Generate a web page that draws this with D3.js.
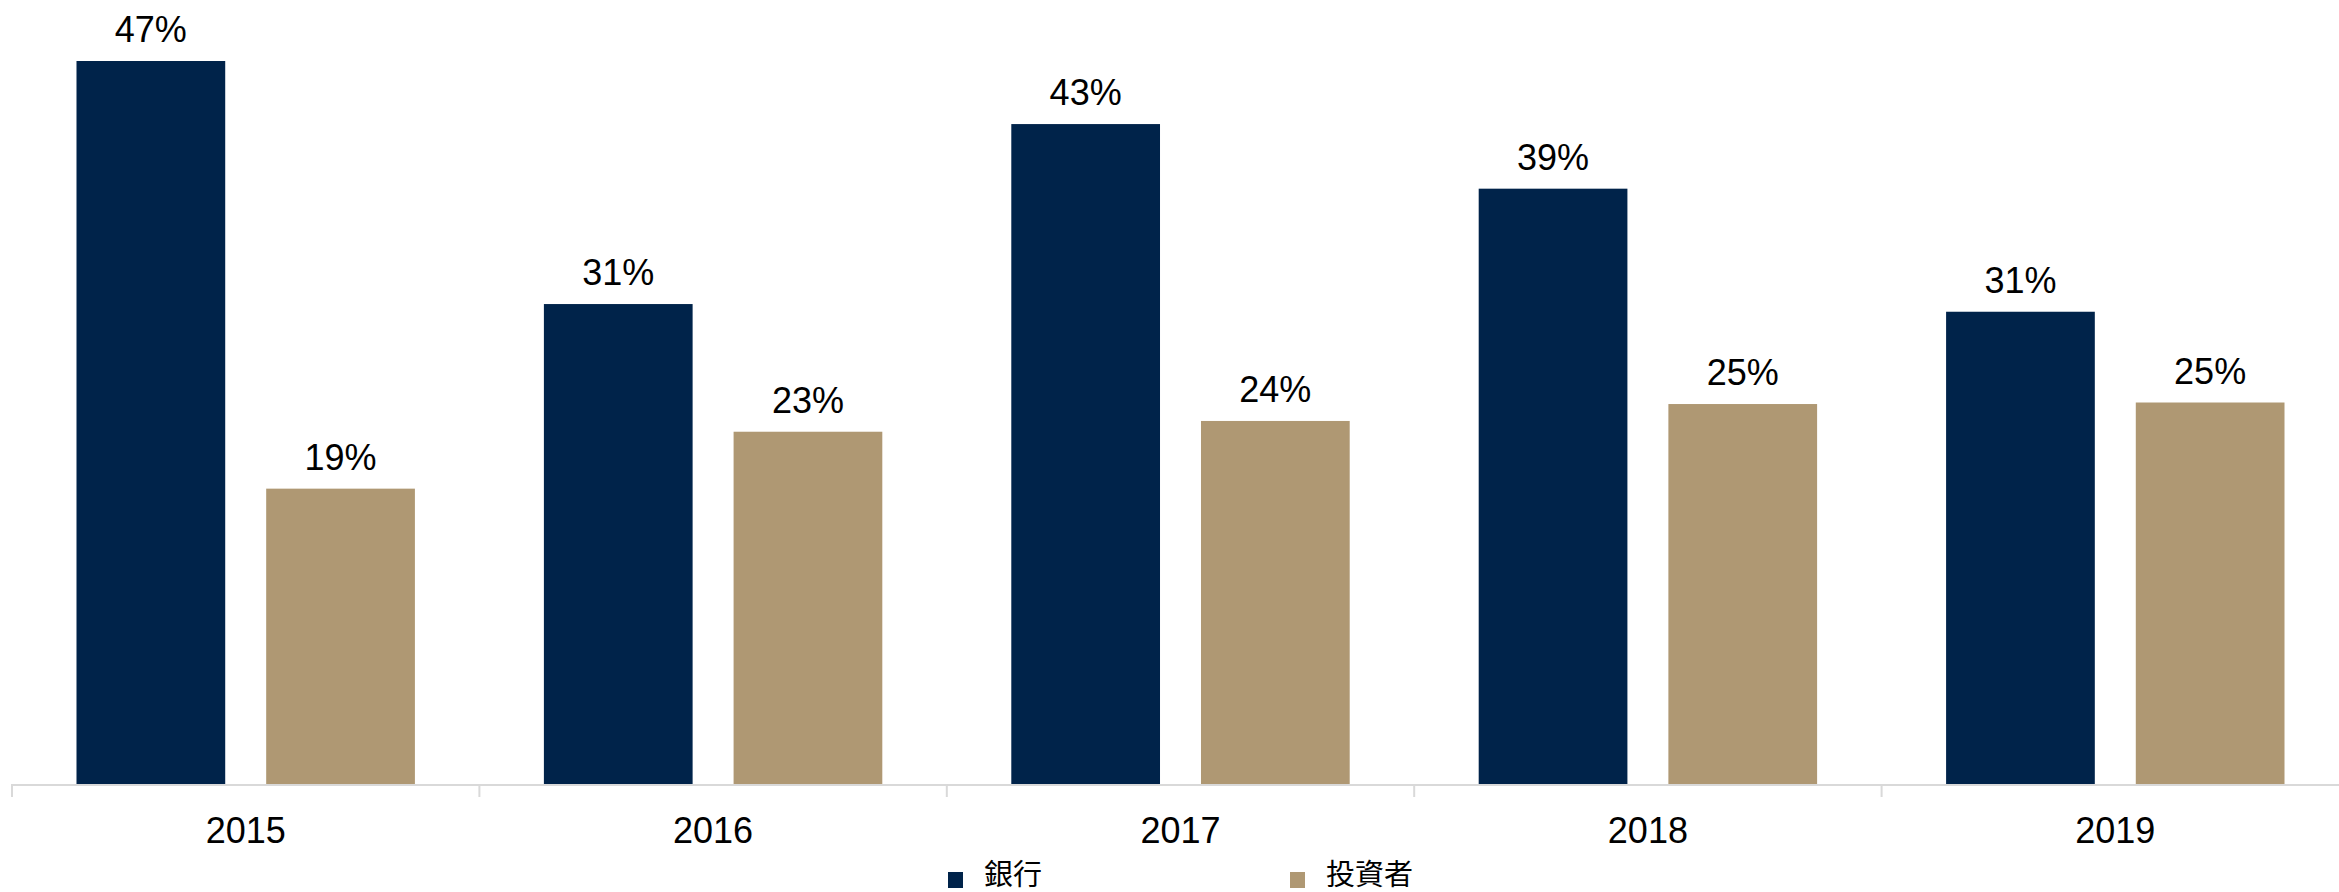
<!DOCTYPE html>
<html>
<head>
<meta charset="utf-8">
<script src="https://cdn.jsdelivr.net/npm/d3@7"></script>
<style>
  body { margin: 0; background: #fff; }
  svg { display: block; }
  .label { font-family: "Liberation Sans", Arial, sans-serif; font-size: 36px; fill: #000; }
  .legend text { font-family: "Noto Sans CJK TC", "Noto Sans CJK JP", sans-serif; font-size: 29px; fill: #000; }
</style>
</head>
<body>
<div class="chart"></div>
<script>
// Data.
const years = ['2015', '2016', '2017', '2018', '2019'];
const seriesNames = ['銀行', '投資者'];
const banks = [47, 31.2, 42.9, 38.7, 30.7];
const investors = [19.2, 22.9, 23.6, 24.7, 24.8];
const colors = ['#00234a', '#af9873'];

// Layout.
const width = 2339, height = 892;
const axisY = 784, plotTop = 61, plotLeft = 12, plotRight = 2349;

const svg = d3.select('.chart')
  .append('svg')
  .attr('width', width)
  .attr('height', height);

// Scales.
const xScale = d3.scaleBand().domain(years).range([plotLeft, plotRight]);
const xInner = d3.scaleBand()
  .domain(seriesNames)
  .range([0, xScale.bandwidth()])
  .paddingInner(0.216)
  .paddingOuter(0.34);
const yScale = d3.scaleLinear()
  .domain([0, d3.max(banks.concat(investors))])
  .range([axisY, plotTop]);
const color = d3.scaleOrdinal().domain(seriesNames).range(colors);

const rows = years.map((y, i) => ({
  year: y,
  values: [
    { name: seriesNames[0], value: banks[i] },
    { name: seriesNames[1], value: investors[i] },
  ],
}));

// Bars.
const groups = svg.append('g').attr('class', 'bars')
  .selectAll('g')
  .data(rows)
  .join('g')
  .attr('transform', d => `translate(${xScale(d.year)},0)`);

groups.selectAll('rect')
  .data(d => d.values)
  .join('rect')
  .attr('x', d => xInner(d.name))
  .attr('y', d => yScale(d.value))
  .attr('width', xInner.bandwidth())
  .attr('height', d => axisY - yScale(d.value))
  .attr('fill', d => color(d.name));

// Value labels.
groups.selectAll('text')
  .data(d => d.values)
  .join('text')
  .attr('class', 'label')
  .attr('x', d => xInner(d.name) + xInner.bandwidth() / 2)
  .attr('y', d => yScale(d.value) - 19)
  .attr('text-anchor', 'middle')
  .text(d => `${Math.round(d.value)}%`);

// X axis.
const xAxis = svg.append('g').attr('class', 'x axis');
xAxis.append('line')
  .attr('x1', plotLeft).attr('x2', width)
  .attr('y1', axisY + 1).attr('y2', axisY + 1)
  .attr('stroke', '#d9d9d9').attr('stroke-width', 2);

xAxis.selectAll('.tick')
  .data(years.map(y => xScale(y)))
  .join('line')
  .attr('class', 'tick')
  .attr('x1', d => d).attr('x2', d => d)
  .attr('y1', axisY).attr('y2', axisY + 13)
  .attr('stroke', '#d9d9d9').attr('stroke-width', 2);

xAxis.selectAll('text')
  .data(years)
  .join('text')
  .attr('class', 'label')
  .attr('x', d => xScale(d) + xScale.bandwidth() / 2)
  .attr('y', 843)
  .attr('text-anchor', 'middle')
  .text(d => d);

// Legend.
const legendX = [948, 1290];
const legend = svg.append('g').attr('class', 'legend')
  .selectAll('g')
  .data(seriesNames)
  .join('g')
  .attr('transform', (d, i) => `translate(${legendX[i]},872)`);

legend.append('rect')
  .attr('width', 15)
  .attr('height', 16)
  .attr('fill', d => color(d));

legend.append('text')
  .attr('x', 36)
  .attr('y', 13)
  .text(d => d);
</script>
</body>
</html>
